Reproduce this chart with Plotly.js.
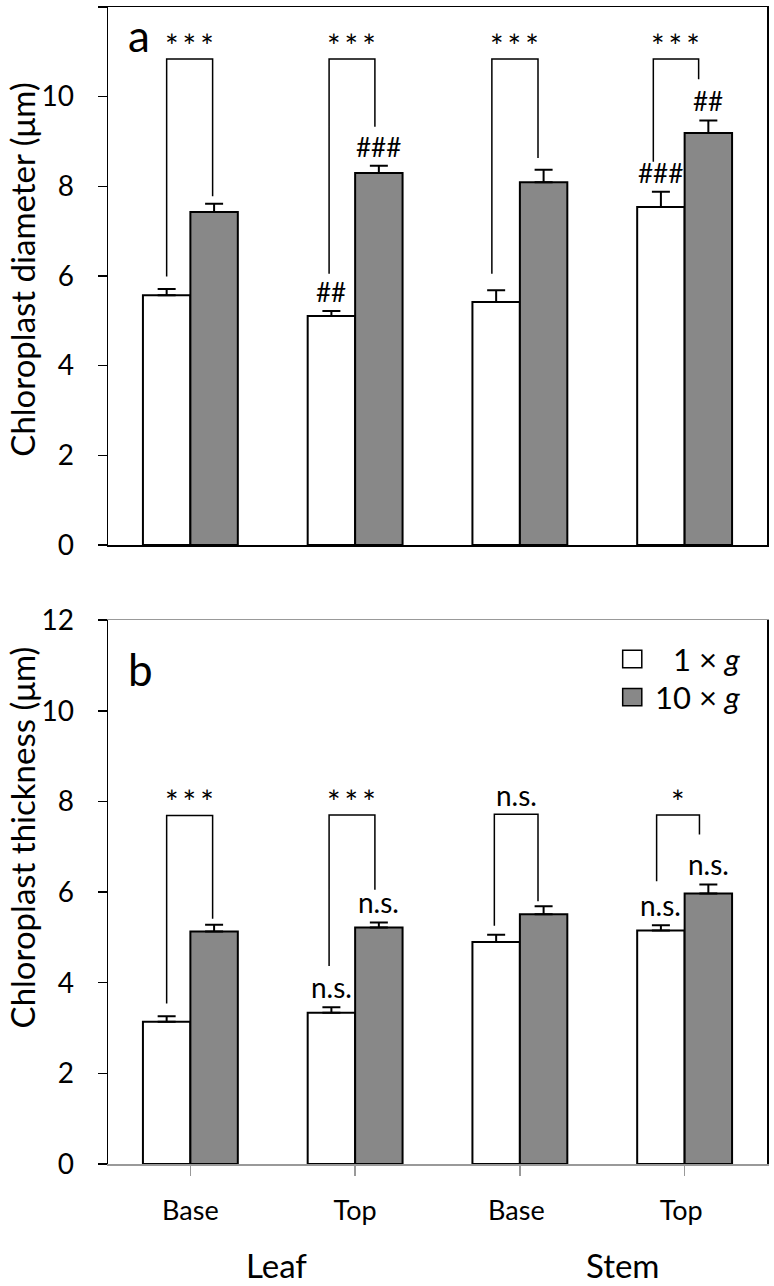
<!DOCTYPE html>
<html>
<head>
<meta charset="utf-8">
<script src="https://cdn.plot.ly/plotly-3.0.1.min.js"></script>
<style>html,body{margin:0;padding:0;background:#fff;}#chart{width:774px;height:1286px;}</style>
</head>
<body>
<div id="chart"></div>
<script>
// ---- data ----
var categories = ["Base", "Top", "Base ", "Top "];
var organs = ["Leaf", "Stem"];
var seriesNames = ["1 × g", "10 × g"];
var yTitles = ["Chloroplast diameter (μm)", "Chloroplast thickness (μm)"];

// panel a: chloroplast diameter (µm)
var diam1g = [5.57, 5.11, 5.42, 7.54];
var diam1gErr = [0.14, 0.11, 0.26, 0.34];
var diam10g = [7.43, 8.30, 8.09, 9.19];
var diam10gErr = [0.18, 0.16, 0.28, 0.28];

// panel b: chloroplast thickness (µm)
var thick1g = [3.14, 3.34, 4.90, 5.15];
var thick1gErr = [0.12, 0.12, 0.16, 0.12];
var thick10g = [5.13, 5.22, 5.51, 5.97];
var thick10gErr = [0.15, 0.11, 0.18, 0.20];

// significance: 1g vs 10g within each tissue
var sigDiam = ["***", "***", "***", "***"];
var sigThick = ["***", "***", "n.s.", "*"];
// bracket heights and leg ends (data units)
var brDiamTop = [10.84, 10.84, 10.84, 10.84];
var brDiamLeft = [5.99, 6.05, 6.05, 8.55];
var brDiamRight = [7.78, 9.33, 8.63, 10.39];
var brThickTop = [7.69, 7.70, 7.72, 7.70];
var brThickLeft = [3.54, 4.37, 5.26, 6.24];
var brThickRight = [5.41, 6.05, 5.80, 7.27];

// comparisons with leaf base of same treatment
var markDiam1g = ["", "##", "", "###"];
var markDiam10g = ["", "###", "", "##"];
var markThick1g = ["", "n.s.", "", "n.s."];
var markThick10g = ["", "n.s.", "", "n.s."];

// ---- styling ----
var FONT = "Lato, 'Open Sans', sans-serif";
var GRAY = "#888888";
var off = 0.144; // half bar-slot offset in category units
var xs = categories.map(function (_, i) { return i; });

function barTrace(vals, errs, color, xa, ya, name) {
  return {
    type: "bar", x: xs, y: vals, name: name, xaxis: xa, yaxis: ya,
    showlegend: false,
    marker: { color: color, line: { color: "#000", width: 2 } },
    error_y: { type: "data", symmetric: false, array: errs, arrayminus: errs.map(function () { return 0; }),
      visible: true, color: "#000", thickness: 2, width: 9 }
  };
}

var data = [
  barTrace(diam1g, diam1gErr, "#ffffff", "x", "y", seriesNames[0]),
  barTrace(diam10g, diam10gErr, GRAY, "x", "y", seriesNames[1]),
  barTrace(thick1g, thick1gErr, "#ffffff", "x2", "y2", seriesNames[0]),
  barTrace(thick10g, thick10gErr, GRAY, "x2", "y2", seriesNames[1])
];

var shapes = [];
var annotations = [];

function sigText(s) {
  return s.indexOf("*") === 0 ? s.split("").join("\u2009") : s;
}

function addBrackets(xa, ya, top, left, right, sig, lo, ro) {
  for (var i = 0; i < top.length; i++) {
    var xl = i + lo[i], xr = i + ro[i];
    shapes.push({
      type: "path", xref: xa, yref: ya,
      path: "M" + xl + "," + left[i] + " L" + xl + "," + top[i] + " L" + xr + "," + top[i] + " L" + xr + "," + right[i],
      line: { color: "#000", width: 1.5 }
    });
    var star = sig[i].indexOf("*") === 0;
    annotations.push({
      xref: xa, yref: ya, x: (xl + xr) / 2, y: top[i], yanchor: star ? "middle" : "bottom",
      yshift: star ? 14 : 0,
      text: sigText(sig[i]), showarrow: false,
      font: { family: FONT, size: star ? 32 : 28, color: "#000" }
    });
  }
}
addBrackets("x", "y", brDiamTop, brDiamLeft, brDiamRight, sigDiam,
  [-0.144, -0.158, -0.17, -0.19], [0.135, 0.12, 0.11, 0.085]);
addBrackets("x2", "y2", brThickTop, brThickLeft, brThickRight, sigThick,
  [-0.144, -0.158, -0.155, -0.17], [0.135, 0.12, 0.11, 0.09]);

function addMarks(xa, ya, vals, errs, marks, dx) {
  for (var i = 0; i < vals.length; i++) {
    if (!marks[i]) continue;
    annotations.push({
      xref: xa, yref: ya, x: i + dx, y: vals[i] + errs[i], yanchor: "bottom", yshift: 1,
      text: marks[i], showarrow: false, font: { family: FONT, size: marks[i] === "n.s." ? 28 : 26, color: "#000" }
    });
  }
}
addMarks("x", "y", diam1g, diam1gErr, markDiam1g, -off);
addMarks("x", "y", diam10g, diam10gErr, markDiam10g, off);
addMarks("x2", "y2", thick1g, thick1gErr, markThick1g, -off);
addMarks("x2", "y2", thick10g, thick10gErr, markThick10g, off);

// y-axis titles
annotations.push({ xref: "paper", yref: "paper", x: -0.131, y: 0.7727, xanchor: "center", yanchor: "middle",
  textangle: -90, text: yTitles[0], showarrow: false, font: { family: FONT, size: 33, color: "#000" } });
annotations.push({ xref: "paper", yref: "paper", x: -0.131, y: 0.282, xanchor: "center", yanchor: "middle",
  textangle: -90, text: yTitles[1], showarrow: false, font: { family: FONT, size: 33, color: "#000" } });

// panel letters
annotations.push({ xref: "paper", yref: "paper", x: 0.028, y: 0.976, xanchor: "left", yanchor: "middle",
  text: "a", showarrow: false, font: { family: FONT, size: 44, color: "#000" } });
annotations.push({ xref: "paper", yref: "paper", x: 0.028, y: 0.428, xanchor: "left", yanchor: "middle",
  text: "b", showarrow: false, font: { family: FONT, size: 44, color: "#000" } });

// organ group labels
annotations.push({ xref: "x2", yref: "paper", x: 0.52, y: -0.087, yanchor: "middle",
  text: organs[0], showarrow: false, font: { family: FONT, size: 33, color: "#000" } });
annotations.push({ xref: "x2", yref: "paper", x: 2.62, y: -0.087, yanchor: "middle",
  text: organs[1], showarrow: false, font: { family: FONT, size: 33, color: "#000" } });

// manual legend
var legColors = ["#ffffff", GRAY];
var legLabels = ["\u2007\u20071 × <i>g</i>", "10 × <i>g</i>"];
var legY = [0.4365, 0.4035];
for (var k = 0; k < 2; k++) {
  shapes.push({ type: "rect", xref: "paper", yref: "paper",
    x0: 0.781, x1: 0.81, y0: legY[k] - 0.0075, y1: legY[k] + 0.0075,
    fillcolor: legColors[k], line: { color: "#000", width: 1.5 } });
  annotations.push({ xref: "paper", yref: "paper", x: 0.963, y: legY[k], xanchor: "right", yanchor: "middle",
    text: legLabels[k], showarrow: false, font: { family: FONT, size: 31, color: "#000" } });
}

var yCommon = {
  range: [0, 12], tickvals: [0, 2, 4, 6, 8, 10, 12], showgrid: false, zeroline: false,
  showline: true, linecolor: "#000", linewidth: 1.5, mirror: true,
  ticks: "outside", ticklen: 9, tickwidth: 1.5, tickcolor: "#000",
  tickfont: { family: FONT, size: 28, color: "#000" }, ticklabelstandoff: 18
};

var layout = {
  width: 774, height: 1286,
  margin: { l: 108, r: 7, t: 7, b: 122 },
  paper_bgcolor: "#fff", plot_bgcolor: "#fff",
  barmode: "group", bargap: 0.424, bargroupgap: 0,
  showlegend: false,
  xaxis: { domain: [0, 1], anchor: "y", range: [-0.5, 3.5], showticklabels: false, ticks: "",
    showgrid: false, zeroline: false, showline: true, linecolor: "#000", linewidth: 1.5, mirror: true },
  yaxis: Object.assign({}, yCommon, { domain: [0.535, 1], anchor: "x" }),
  xaxis2: { domain: [0, 1], anchor: "y2", range: [-0.5, 3.5], tickmode: "array", tickvals: xs, ticktext: categories,
    tickson: "boundaries", ticks: "outside", ticklen: 10, tickwidth: 1.5, tickcolor: "#999",
    tickfont: { family: FONT, size: 27, color: "#000" }, ticklabelstandoff: 12,
    showgrid: false, zeroline: false, showline: true, linecolor: "#999", linewidth: 1.5, mirror: true },
  yaxis2: Object.assign({}, yCommon, { domain: [0, 0.470], anchor: "x2" }),
  shapes: shapes,
  annotations: annotations
};

Plotly.newPlot("chart", data, layout, { staticPlot: true, displayModeBar: false });
</script>
</body>
</html>
